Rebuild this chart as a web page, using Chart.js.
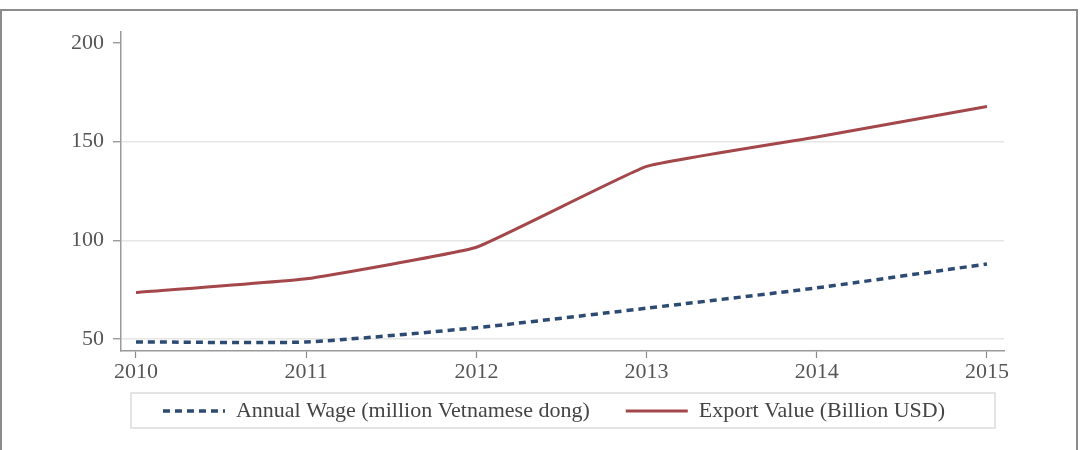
<!DOCTYPE html>
<html>
<head>
<meta charset="utf-8">
<script src="https://cdn.jsdelivr.net/npm/chart.js@4.4.1/dist/chart.umd.min.js"></script>
<style>
  html, body { margin: 0; padding: 0; background: #fff; }
  #wrap { position: relative; width: 1080px; height: 450px; overflow: hidden; }
  #frame { position: absolute; left: 0; top: 9px; width: 1078px; height: 470px; border: 2px solid #8c8c8c; box-sizing: border-box; }
  #chart { position: absolute; left: 0; top: 0; }
</style>
</head>
<body>
<div id="wrap">
  <div id="frame"></div>
  <canvas id="chart" width="1080" height="450"></canvas>
</div>
<script>
// values
const years = [2010, 2011, 2012, 2013, 2014, 2015];
const annualWage = [48.5, 48.5, 55.7, 65.6, 75.9, 88];
const exportValue = [73.5, 80.5, 96.5, 137.5, 152.4, 167.8];
const yTicks = [50, 100, 150, 200];

const serif = '"Liberation Serif", "Times New Roman", serif';

// legend sits a bit off-centre and tight under the axis labels, with a grey frame round it
const legendFrame = {
  id: 'legendFrame',
  afterLayout(chart) {
    const lg = chart.legend;
    lg.left = 104;
    lg.top = chart.chartArea.bottom + 13;
    lg.height = 70;
  },
  afterDraw(chart) {
    const { ctx, chartArea } = chart;
    ctx.save();
    ctx.strokeStyle = '#dcdcdc';
    ctx.lineWidth = 1.5;
    ctx.strokeRect(chartArea.left + 10, chartArea.bottom + 42, chartArea.right - chartArea.left - 19, 35);
    ctx.restore();
  }
};

new Chart(document.getElementById('chart'), {
  type: 'line',
  data: {
    datasets: [
      {
        label: 'Annual Wage (million Vetnamese dong)',
        data: years.map((y, i) => ({ x: y, y: annualWage[i] })),
        borderColor: '#2d4b72',
        borderWidth: 3.5,
        borderDash: [7, 5],
        pointRadius: 0,
        tension: 0.2,
        fill: false
      },
      {
        label: 'Export Value (Billion USD)',
        data: years.map((y, i) => ({ x: y, y: exportValue[i] })),
        borderColor: '#a3474b',
        borderWidth: 3,
        pointRadius: 0,
        tension: 0.1,
        fill: false
      }
    ]
  },
  options: {
    responsive: false,
    animation: false,
    layout: { padding: { left: 0, right: 76, top: 32, bottom: 19 } },
    plugins: {
      tooltip: { enabled: false },
      legend: {
        position: 'bottom',
        maxHeight: 40,
        labels: {
          usePointStyle: true,
          pointStyle: 'line',
          pointStyleWidth: 62,
          padding: 36,
          color: '#444',
          font: { family: serif, size: 22 },
          // point style drops the dash, so copy it back from the dataset
          generateLabels: chart => Chart.defaults.plugins.legend.labels.generateLabels(chart).map(item => {
            const ds = chart.data.datasets[item.datasetIndex];
            item.lineDash = ds.borderDash || [];
            item.lineWidth = ds.borderWidth;
            return item;
          })
        }
      }
    },
    scales: {
      x: {
        type: 'linear',
        min: 2009.912,
        max: 2015.1,
        afterBuildTicks: axis => { axis.ticks = years.map(v => ({ value: v })); },
        afterFit: axis => { axis.height = 40; },
        ticks: {
          color: '#555',
          font: { family: serif, size: 22 },
          padding: 1,
          maxRotation: 0,
          autoSkip: false,
          callback: v => String(v)
        },
        grid: { drawOnChartArea: false, tickLength: 7, tickColor: '#8a8a8a', tickWidth: 1.2 },
        border: { color: '#9a9a9a', width: 1.5 }
      },
      y: {
        min: 43.9,
        max: 205.6,
        afterBuildTicks: axis => { axis.ticks = yTicks.map(v => ({ value: v })); },
        afterFit: axis => { axis.width = 121; },
        ticks: {
          color: '#555',
          font: { family: serif, size: 22 },
          padding: 9,
          callback: v => String(v)
        },
        grid: {
          color: c => (c.tick && c.tick.value === 200 ? 'rgba(0,0,0,0)' : '#e6e6e6'),
          lineWidth: 1.5,
          tickLength: 8,
          tickColor: '#8a8a8a',
          tickWidth: 1.2
        },
        border: { color: '#9a9a9a', width: 1.5 }
      }
    }
  },
  plugins: [legendFrame]
});
</script>
</body>
</html>
